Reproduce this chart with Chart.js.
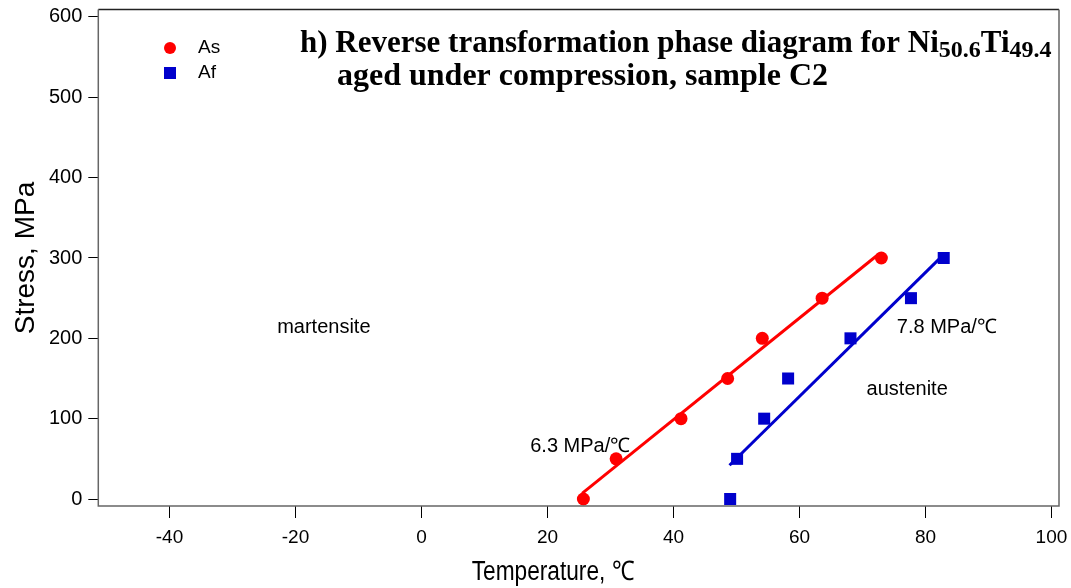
<!DOCTYPE html>
<html>
<head>
<meta charset="utf-8">
<script src="https://cdn.jsdelivr.net/npm/chart.js@4"></script>
<style>
  html, body { margin: 0; padding: 0; background: #fff; }
  #wrap { width: 1071px; height: 588px; }
</style>
</head>
<body>
<div id="wrap"><canvas id="phaseChart" width="1071" height="588"></canvas></div>
<script>
// data
const asTemp = [25.7, 30.9, 41.2, 48.6, 54.1, 63.6, 73.0];
const asStress = [0, 50, 100, 150, 200, 250, 300];
const afTemp = [49.0, 50.1, 54.4, 58.2, 68.1, 77.7, 82.9];
const afStress = [0, 50, 100, 150, 200, 250, 300];

// linear fits drawn through the points
const asFitTemp = [25.5, 72.6];
const asFitStress = [7, 305];
const afFitTemp = [48.9, 82.6];
const afFitStress = [42, 302];

const xTicks = [-40, -20, 0, 20, 40, 60, 80, 100];
const yTicks = [0, 100, 200, 300, 400, 500, 600];

const sans = "'Liberation Sans', Arial, Helvetica, sans-serif";
const serif = "'Liberation Serif', 'Times New Roman', serif";

function pts(xs, ys) {
    return xs.map((x, i) => ({ x: x, y: ys[i] }));
}

// frame, title, legend and region labels
const decorations = {
    id: 'decorations',
    afterDraw(chart) {
        const ctx = chart.ctx;
        const a = chart.chartArea;
        const xs = chart.scales.x;
        const ys = chart.scales.y;
        ctx.save();

        // box round the plot
        ctx.lineWidth = 1.5;
        ctx.strokeStyle = '#222';
        ctx.beginPath();
        ctx.moveTo(a.left, a.top);
        ctx.lineTo(a.right, a.top);
        ctx.stroke();
        ctx.strokeStyle = '#666';
        ctx.beginPath();
        ctx.moveTo(a.right, a.top);
        ctx.lineTo(a.right, a.bottom);
        ctx.lineTo(a.left, a.bottom);
        ctx.lineTo(a.left, a.top);
        ctx.stroke();

        // legend
        ctx.fillStyle = '#ff0000';
        ctx.beginPath();
        ctx.arc(170, 48, 6, 0, Math.PI * 2);
        ctx.fill();
        ctx.fillStyle = '#0000cc';
        ctx.fillRect(164, 67, 12, 12);
        ctx.fillStyle = '#000';
        ctx.font = '19px ' + sans;
        ctx.textBaseline = 'middle';
        ctx.textAlign = 'left';
        ctx.fillText('As', 198, 48);
        ctx.fillText('Af', 198, 73);

        // region and slope labels
        ctx.font = '20px ' + sans;
        ctx.textAlign = 'center';
        ctx.fillText('martensite', xs.getPixelForValue(-15.5), ys.getPixelForValue(214));
        ctx.fillText('austenite', xs.getPixelForValue(77.1), ys.getPixelForValue(136));
        ctx.fillText('6.3 MPa/\u2103', xs.getPixelForValue(25.2), ys.getPixelForValue(66));
        ctx.fillText('7.8 MPa/\u2103', xs.getPixelForValue(83.4), ys.getPixelForValue(214));

        // axis titles
        ctx.font = '27px ' + sans;
        ctx.save();
        ctx.translate(553, 573);
        ctx.scale(0.84, 1);
        ctx.fillText('Temperature, \u2103', 0, 0);
        ctx.restore();
        ctx.save();
        ctx.translate(26, 258);
        ctx.rotate(-Math.PI / 2);
        ctx.font = '28px ' + sans;
        ctx.fillText('Stress, MPa', 0, 0);
        ctx.restore();

        // title with subscripts
        ctx.textAlign = 'left';
        ctx.textBaseline = 'alphabetic';
        let x = 300;
        const parts = [
            ['h) Reverse transformation phase diagram for Ni', 31, 0],
            ['50.6', 24, 5],
            ['Ti', 31, 0],
            ['49.4', 24, 5]
        ];
        parts.forEach(p => {
            ctx.font = 'bold ' + p[1] + 'px ' + serif;
            ctx.fillText(p[0], x, 52 + p[2]);
            x += ctx.measureText(p[0]).width;
        });
        ctx.font = 'bold 32px ' + serif;
        ctx.fillText('aged under compression, sample C2', 337, 85);

        ctx.restore();
    }
};

const ctx = document.getElementById('phaseChart').getContext('2d');
const chart = new Chart(ctx, {
    type: 'scatter',
    data: {
        datasets: [
            {
                label: 'As fit',
                type: 'line',
                data: pts(asFitTemp, asFitStress),
                borderColor: '#ff0000',
                borderWidth: 3,
                pointRadius: 0,
                fill: false
            },
            {
                label: 'Af fit',
                type: 'line',
                data: pts(afFitTemp, afFitStress),
                borderColor: '#0000cc',
                borderWidth: 3,
                pointRadius: 0,
                fill: false
            },
            {
                label: 'As',
                data: pts(asTemp, asStress),
                backgroundColor: '#ff0000',
                borderWidth: 0,
                pointStyle: 'circle',
                pointRadius: 6.5
            },
            {
                label: 'Af',
                data: pts(afTemp, afStress),
                backgroundColor: '#0000cc',
                borderWidth: 0,
                pointStyle: 'rect',
                pointRadius: 8.5
            }
        ]
    },
    options: {
        responsive: false,
        animation: false,
        clip: false,
        layout: { padding: { top: 9.5, right: 12, left: 0, bottom: 0 } },
        plugins: {
            legend: { display: false },
            tooltip: { enabled: false }
        },
        scales: {
            x: {
                type: 'linear',
                min: -51.3,
                max: 101.2,
                afterBuildTicks: s => { s.ticks = xTicks.map(v => ({ value: v })); },
                afterFit: s => { s.height = 82; s.paddingLeft = 0; s.paddingRight = 0; },
                grid: { drawOnChartArea: false, drawTicks: true, tickLength: 12, tickColor: '#000' },
                border: { display: false },
                ticks: { color: '#000', padding: 8, font: { family: sans, size: 19 } }
            },
            y: {
                type: 'linear',
                min: -8.7,
                max: 609.3,
                afterBuildTicks: s => { s.ticks = yTicks.map(v => ({ value: v })); },
                afterFit: s => { s.width = 98.3; s.paddingTop = 0; s.paddingBottom = 0; },
                grid: { drawOnChartArea: false, drawTicks: true, tickLength: 10, tickColor: '#000' },
                border: { display: false },
                ticks: { color: '#000', padding: 6, font: { family: sans, size: 20 } }
            }
        }
    },
    plugins: [decorations]
});
</script>
</body>
</html>
